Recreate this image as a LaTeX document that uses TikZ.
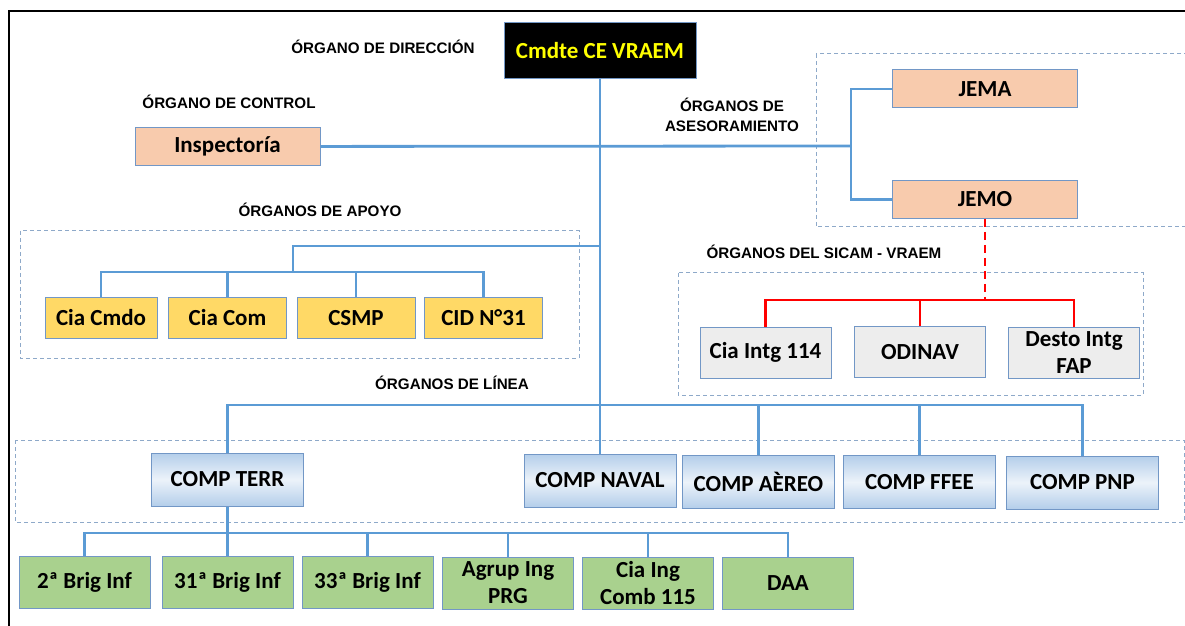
\documentclass[tikz,border=0pt]{standalone}
\usepackage{fontspec}
\setmainfont{Carlito}
\newfontfamily\lblfont{Liberation Sans}
\usepackage{xcolor}
\definecolor{lnblue}{HTML}{5B9BD5}
\definecolor{bdblue}{HTML}{7297C6}
\definecolor{dshcol}{HTML}{8EA9C9}
\definecolor{peach}{HTML}{F8CBAD}
\definecolor{gold}{HTML}{FFD966}
\definecolor{lgray}{HTML}{EDEDED}
\definecolor{lgreen}{HTML}{A9D18E}
\definecolor{skyb}{HTML}{B4CEEA}
\definecolor{cmdyel}{HTML}{FFFF00}
\tikzstyle{box}=[draw=bdblue,line width=0.5pt,inner sep=0pt,align=center,font=\fontsize{11.5}{13.5}\selectfont\bfseries]
\tikzstyle{head}=[box,fill=black,text=cmdyel,minimum width=96pt,minimum height=28pt]
\tikzstyle{staff}=[box,fill=peach,minimum width=92.5pt,minimum height=19pt]
\tikzstyle{support}=[box,fill=gold,minimum width=59pt,minimum height=20.5pt]
\tikzstyle{sicam}=[box,fill=lgray,minimum width=65.5pt,minimum height=25.5pt]
\tikzstyle{comp}=[box,top color=skyb,bottom color=skyb,middle color=skyb!25!white,minimum width=76pt,minimum height=26.5pt]
\tikzstyle{unit}=[box,fill=lgreen,minimum width=65.5pt,minimum height=26pt]
\tikzstyle{lbl}=[font=\lblfont\bfseries\fontsize{7.6}{10}\selectfont,align=center]
\tikzstyle{conn}=[lnblue,line width=1.4pt]
\tikzstyle{redconn}=[red,line width=1.4pt]
\tikzstyle{grp}=[dshcol,line width=0.5pt,dash pattern=on 2pt off 1.5pt]

\begin{document}
\begin{tikzpicture}[x=0.5pt,y=-0.5pt]
  \clip (0,0) rectangle (1185,626);
  \draw[line width=1pt] (9,640) -- (9,11.5) -- (1200,11.5);
  % group frames
  \draw[grp] (816,54) rectangle (1200,227);
  \draw[grp] (20,231) rectangle (579,358);
  \draw[grp] (678,273) rectangle (1143,395);
  \draw[grp] (15,440) rectangle (1184,522);

  \node[lbl] (dirL) at (383,47) {ÓRGANO DE DIRECCIÓN};
  \node[lbl] (ctrlL) at (229,102) {ÓRGANO DE CONTROL};
  \node[lbl] (asesL) at (732,115) {ÓRGANOS DE\\ASESORAMIENTO};
  \node[lbl] (apoyoL) at (320,210) {ÓRGANOS DE APOYO};
  \node[lbl] (sicamL) at (824,252) {ÓRGANOS DEL SICAM - VRAEM};
  \node[lbl] (lineaL) at (452,383) {ÓRGANOS DE LÍNEA};

  \node[head] (cmdte) at (600,51) {Cmdte CE VRAEM};
  \node[staff] (insp) at (227.5,146.5) {Inspectoría};
  \node[staff] (jema) at (985,89) {JEMA};
  \node[staff] (jemo) at (985,199.5) {JEMO};
  \node[support,minimum width=56pt] (ciacmdo) at (101,318) {Cia Cmdo};
  \node[support] (ciacom) at (227.5,318) {Cia Com};
  \node[support] (csmp) at (356,318) {CSMP};
  \node[support] (cid) at (483.5,318) {CID N°31};
  \node[sicam] (ciaintg) at (765.5,352.5) {Cia Intg 114};
  \node[sicam] (odinav) at (920,352) {ODINAV};
  \node[sicam] (desto) at (1074,353) {Desto Intg\\FAP};
  \node[comp] (terr) at (227.5,479.5) {COMP TERR};
  \node[comp] (naval) at (600,480.5) {COMP NAVAL};
  \node[comp] (aereo) at (758.5,482) {COMP AÈREO};
  \node[comp] (ffee) at (919.5,482) {COMP FFEE};
  \node[comp] (pnp) at (1082.5,482.5) {COMP PNP};
  \node[unit] (brig2) at (84.5,582) {2ª Brig Inf};
  \node[unit] (brig31) at (227.5,582) {31ª Brig Inf};
  \node[unit] (brig33) at (367.5,582) {33ª Brig Inf};
  \node[unit] (agrup) at (508,583) {Agrup Ing\\PRG};
  \node[unit] (ciaing) at (648,583) {Cia Ing\\Comb 115};
  \node[unit] (daa) at (788,583.5) {DAA};

  \coordinate (asJ) at (851,146);
  \coordinate (apJ) at (600,246);
  \coordinate (apM) at (293,272);
  \coordinate (sicJ) at (985,300);
  \coordinate (linJ) at (600,405);
  \coordinate (terrJ) at (227.5,533);

  \draw[conn] (cmdte) -- (naval);
  \draw[conn] (insp) -- (asJ);
  \draw[conn] (jema) -| (asJ) |- (jemo);
  \draw[conn] (apJ) -| (apM);
  \draw[conn] (ciacmdo) |- (apM) -| (cid);
  \draw[conn] (ciacom) |- (apM);
  \draw[conn] (csmp) |- (apM);
  \draw[redconn,dash pattern=on 4pt off 2.5pt] (jemo) -- (sicJ);
  \draw[redconn] (ciaintg) |- (sicJ) -| (desto);
  \draw[redconn] (odinav) |- (sicJ);
  \draw[conn] (terr) |- (linJ) -| (pnp);
  \draw[conn] (aereo) |- (linJ);
  \draw[conn] (ffee) |- (linJ);
  \draw[conn] (terr) -- (brig31);
  \draw[conn] (brig2) |- (terrJ) -| (daa);
  \draw[conn] (brig33) |- (terrJ);
  \draw[conn] (agrup) |- (terrJ);
  \draw[conn] (ciaing) |- (terrJ);
\end{tikzpicture}
\end{document}
